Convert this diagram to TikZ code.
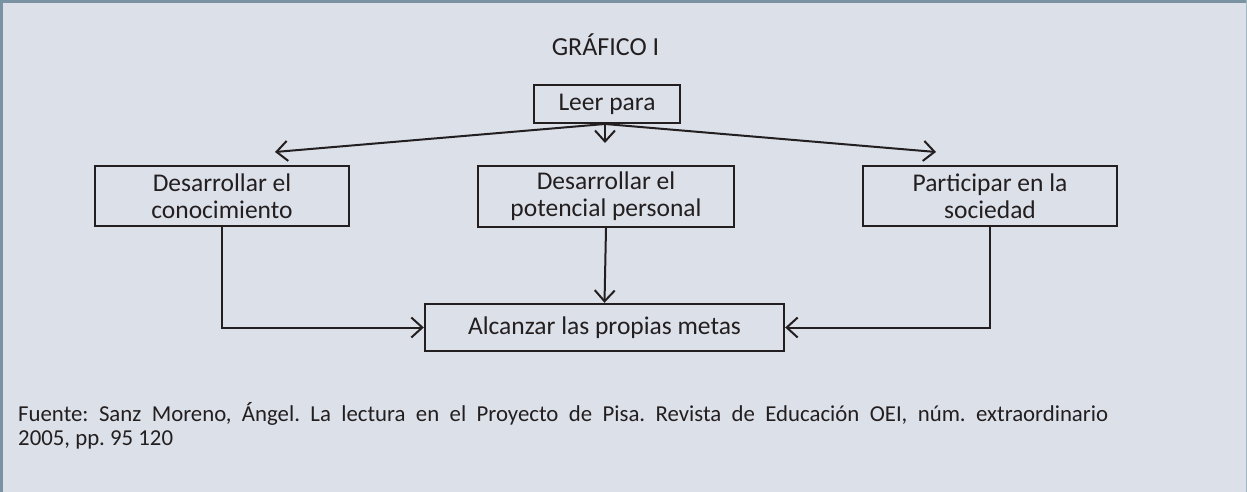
\documentclass[tikz,border=0pt]{standalone}
\usepackage{fontspec}
\setmainfont{Carlito}
\usetikzlibrary{arrows.meta}
\definecolor{bgc}{HTML}{DCE0E9}
\definecolor{frm}{HTML}{7A93A3}
\definecolor{ink}{HTML}{231F20}
\frenchspacing
\begin{document}
\begin{tikzpicture}[x=1pt,y=-1pt,
  box/.style={draw=ink, line width=2.4pt, inner sep=0pt, align=center,
    font=\fontsize{25.5}{27}\selectfont, text=ink},
  conn/.style={draw=ink, line width=2pt,
    -{Straight Barb[length=11pt,width=20pt,line width=2pt]}},
  foot/.style={inner sep=0pt, text=ink, font=\fontsize{22.8}{24}\selectfont},
  ttl/.style={inner sep=0pt, text=ink, font=\fontsize{26}{28}\selectfont}]
\useasboundingbox (0,0) rectangle (1247,492);
\fill[bgc] (0,0) rectangle (1247,492);
\fill[frm] (0,0) rectangle (1247,3);
\fill[frm] (0,0) rectangle (3,492);
\fill[frm!70] (1245.5,0) rectangle (1247,492);

\node[ttl, anchor=base] (title) at (605.5,56) {GRÁFICO I};
\node[box, minimum width=146pt, minimum height=38pt] (leer) at (607,104) {Leer para};
\node[box, minimum width=254pt, minimum height=60pt] (left) at (222,196) {Desarrollar el\\conocimiento};
\node[box, minimum width=256pt, minimum height=61pt] (mid) at (606,196.5) {Desarrollar el\\potencial personal};
\node[box, minimum width=254pt, minimum height=60pt] (right) at (990,196) {Participar en la\\sociedad};
\node[box, minimum width=359pt, minimum height=47pt] (goal) at (604.5,327.5) {Alcanzar las propias metas};

\coordinate (la) at (275,152);
\coordinate (ra) at (936,152);
\coordinate (ma) at (605,143);
\coordinate (lo) at (605,124);

\draw[conn] (lo) -- (la);
\draw[conn] (lo) -- (ra);
\draw[conn] (lo) -- (ma);

\draw[conn] (left.south) |- (goal.west);
\draw[conn] (mid.south) -- (goal.north);
\draw[conn] (right.south) |- (goal.east);

\node[foot, anchor=base west] (f1) at (18,421) {\makebox[1090pt][s]{Fuente: Sanz Moreno, Ángel. La lectura en el Proyecto de Pisa. Revista de Educación OEI, núm. extraordinario}};
\node[foot, anchor=base west] (f2) at (18,445) {2005, pp. 95 120};
\end{tikzpicture}
\end{document}
